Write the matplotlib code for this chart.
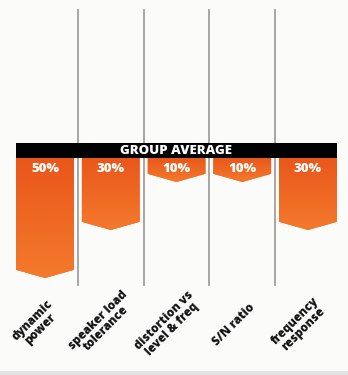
import matplotlib.pyplot as plt
import numpy as np
from matplotlib.patches import Polygon, Rectangle

categories = ['dynamic\npower', 'speaker load\ntolerance', 'distortion vs\nlevel & freq',
              'S/N ratio', 'frequency\nresponse']
values = [50, 30, 10, 10, 30]
labels = ['50%', '30%', '10%', '10%', '30%']

plt.rcParams['font.family'] = ['Open Sans', 'DejaVu Sans']

fig = plt.figure(figsize=(3.48, 3.75), dpi=100)
fig.patch.set_facecolor('#fbfbfa')
ax = fig.add_axes([0, 0, 1, 1])
ax.set_xlim(-0.684, 4.608)
ax.set_ylim(-90.4, 65.8)
ax.axis('off')

bar_w = 0.88
tip = 3.4
x = np.arange(len(values))

# column dividers
for xd in x[:-1] + 0.5:
    ax.plot([xd, xd], [-53, 61.5], color='#a0a0a0', lw=1.3, zorder=1)

# gradient used to fill the chevron bars
grad = np.linspace(0, 1, 256).reshape(-1, 1)
cmap = plt.matplotlib.colors.LinearSegmentedColormap.from_list('o', ['#f47a2c', '#e9561b'])

for xi, v, lab in zip(x, values, labels):
    l, r = xi - bar_w / 2, xi + bar_w / 2
    pts = [(l, 0), (r, 0), (r, -v + tip), (xi, -v), (l, -v + tip)]
    poly = Polygon(pts, closed=True, facecolor='#f06420', edgecolor='none', zorder=2)
    ax.add_patch(poly)
    im = ax.imshow(grad, extent=(l, r, -v, 0), origin='lower', cmap=cmap,
                   aspect='auto', zorder=2.5)
    im.set_clip_path(poly)
    ax.text(xi, -4.4, lab, color='white', fontsize=9.5, fontweight='heavy',
            ha='center', va='center', zorder=4)

# group average banner
ax.add_patch(Rectangle((-0.44, 0), 4.88, 6.3, facecolor='black', edgecolor='none', zorder=3))
ax.text(2, 3.1, 'GROUP AVERAGE', color='white', fontsize=9.5, fontweight='heavy',
        ha='center', va='center', zorder=4)

# rotated category labels
for xi, cat in zip(x, categories):
    ax.text(xi - 0.13, -69.5, cat, rotation=45, fontsize=8.5, fontweight='heavy',
            ha='center', va='center', multialignment='center', linespacing=0.95,
            color='#111111', zorder=4)

# light grey strip along the bottom edge
ax.add_patch(Rectangle((-0.684, -90.4), 5.3, 1.7, facecolor='#e4e4e4', edgecolor='none', zorder=1))

fig.savefig('out.png', dpi=100, facecolor=fig.get_facecolor())
